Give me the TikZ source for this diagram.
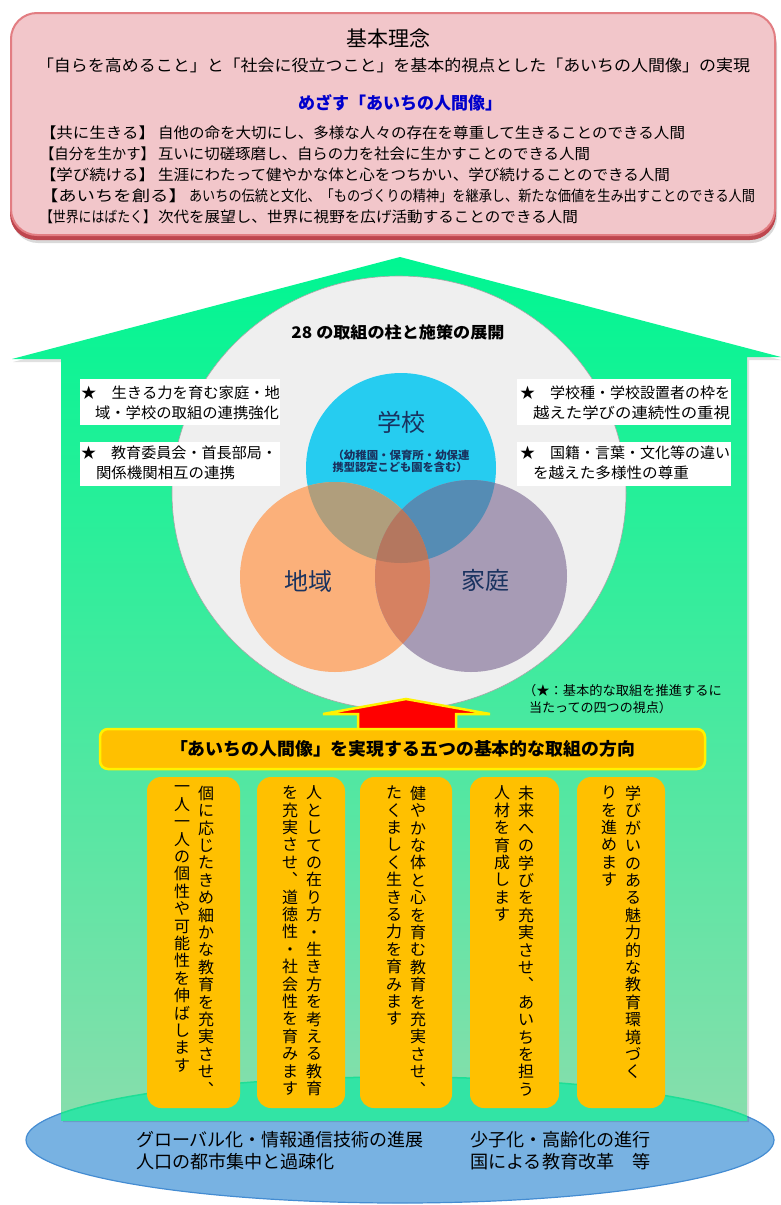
\documentclass[tikz,border=0pt]{standalone}
\usepackage{fontspec}
\setmainfont{Noto Sans CJK JP}
\usepackage{graphicx}
\usetikzlibrary{shapes.geometric}
\definecolor{pinkfill}{RGB}{242,198,202}
\definecolor{pinkborder}{RGB}{226,125,130}
\definecolor{shadowred}{RGB}{190,70,78}
\definecolor{blueT}{RGB}{0,0,204}
\definecolor{gA}{RGB}{0,246,146}
\definecolor{gB}{RGB}{30,236,155}
\definecolor{gC}{RGB}{135,222,172}
\definecolor{egggray}{RGB}{239,239,239}
\definecolor{barorange}{RGB}{255,192,0}
\definecolor{ellblue}{RGB}{120,178,226}
\definecolor{ellborder}{RGB}{68,140,210}
\definecolor{ovgreen}{RGB}{50,228,165}
\definecolor{edgegreen}{RGB}{30,222,150}
\definecolor{navyT}{RGB}{25,50,95}
\definecolor{cBlue}{RGB}{38,204,240}
\definecolor{cOrange}{RGB}{251,176,122}
\definecolor{cPurple}{RGB}{167,155,181}
\definecolor{cBO}{RGB}{176,158,124}
\definecolor{cBP}{RGB}{85,140,180}
\definecolor{cOP}{RGB}{214,129,97}
\definecolor{cTri}{RGB}{180,119,95}
\newcommand\fsz[1]{\fontsize{#1}{#1}\selectfont}
\newcommand\fitw[2]{\resizebox{#1}{\height}{#2}}
\makeatletter
\newcommand\vcol[1]{\vbox{\baselineskip=17.4pt\lineskiplimit=-20pt\lineskip=0pt\@tfor\vc@t:=#1\do{\hbox to 1em{\hss\vc@t\hss}}}}
\makeatother
\tikzset{
  every node/.style={inner sep=0pt, outer sep=0pt},
  linetext/.style={anchor=west, font=\fsz{15}},
  boxtext/.style={anchor=west, font=\fsz{15}},
  whitebox/.style={fill=white, anchor=north west},
  pillar/.style={fill=barorange, rounded corners=14pt, anchor=north west, minimum height=331pt},
  coltext/.style={anchor=north, font=\fsz{16}},
  venntext/.style={font=\fsz{24}, text=navyT},
  bottomtext/.style={anchor=west, font=\fsz{18}}
}
\begin{document}
\begin{tikzpicture}[x=1pt,y=-1pt]
\useasboundingbox (0,0) rectangle (781,1205);

% ---------- top box ----------
\fill[black, opacity=.15, rounded corners=26pt] (12,20) rectangle (777,243);
\fill[shadowred, rounded corners=26pt] (10,16) rectangle (776,240);
\node[draw=pinkborder, line width=2pt, fill=pinkfill, rounded corners=26pt,
      minimum width=764pt, minimum height=222pt, anchor=north west] (topbox) at (11,13) {};
\node[font=\fsz{21}] (kihon) at (388,39) {基本理念};
\node[font=\fsz{16}] (sub) at (393.5,65) {\fitw{713pt}{「自らを高めること」と「社会に役立つこと」を基本的視点とした「あいちの人間像」の実現}};
\node[font=\bfseries\fsz{17}, text=blueT] (mezasu) at (400,103) {めざす「あいちの人間像」};
\node[linetext] (l1a) at (40,133) {\fitw{115pt}{【共に生きる】}};
\node[linetext] (l1b) at (158,133) {\fitw{527pt}{自他の命を大切にし、多様な人々の存在を尊重して生きることのできる人間}};
\node[linetext] (l2a) at (40,154) {\fitw{115pt}{【自分を生かす】}};
\node[linetext] (l2b) at (158,154) {\fitw{432pt}{互いに切磋琢磨し、自らの力を社会に生かすことのできる人間}};
\node[linetext] (l3a) at (40,175) {\fitw{115pt}{【学び続ける】}};
\node[linetext] (l3b) at (158,175) {\fitw{512pt}{生涯にわたって健やかな体と心をつちかい、学び続けることのできる人間}};
\node[linetext] (l4a) at (40,196) {\fitw{147pt}{【あいちを創る】}};
\node[linetext] (l4b) at (189,196) {\fitw{566pt}{あいちの伝統と文化、「ものづくりの精神」を継承し、新たな価値を生み出すことのできる人間}};
\node[linetext] (l5a) at (40,217) {\fitw{116pt}{【世界にはばたく】}};
\node[linetext] (l5b) at (158,217) {\fitw{420pt}{次代を展望し、世界に視野を広げ活動することのできる人間}};

% ---------- bottom ellipse ----------
\draw[fill=ellblue, draw=ellborder, line width=1.2pt] (400,1140) ellipse [x radius=374, y radius=63];

% ---------- house ----------
\fill[black, opacity=.12] (13,362) -- (400,260) -- (781,360) -- (749,360) -- (749,1122) -- (63,1122) -- (63,362) -- cycle;
\shade[top color=gA, middle color=gB, bottom color=gC]
  (12,359) -- (400,257) -- (781,357) -- (747,357) -- (747,1120) -- (61,1120) -- (61,359) -- cycle;
\begin{scope}
  \clip (61,1000) rectangle (747,1120);
  \fill[ovgreen] (400,1140) ellipse [x radius=374, y radius=63];
  \draw[edgegreen, line width=1.5pt] (400,1140) ellipse [x radius=374, y radius=63];
\end{scope}

% ---------- gray egg ----------
\draw[fill=egggray, draw=black!35, line width=.6pt] (399,493) ellipse [x radius=227, y radius=217];
\node[font=\bfseries\fsz{16}] (title28) at (398,332) {\fitw{213pt}{28 の取組の柱と施策の展開}};

% ---------- white boxes ----------
\node[whitebox, minimum width=200pt, minimum height=46pt] (wb1) at (80,379) {};
\node[whitebox, minimum width=200pt, minimum height=44pt] (wb2) at (80,442) {};
\node[whitebox, minimum width=214pt, minimum height=46pt] (wb3) at (517,379) {};
\node[whitebox, minimum width=214pt, minimum height=44pt] (wb4) at (517,442) {};
\node[boxtext] (t1a) at (81,393) {\fitw{199pt}{★　生きる力を育む家庭・地}};
\node[boxtext] (t1b) at (95,413) {\fitw{184pt}{域・学校の取組の連携強化}};
\node[boxtext] (t2a) at (81,453) {\fitw{196pt}{★　教育委員会・首長部局・}};
\node[boxtext] (t2b) at (96,473) {\fitw{139pt}{関係機関相互の連携}};
\node[boxtext] (t3a) at (520,393) {\fitw{210pt}{★　学校種・学校設置者の枠を}};
\node[boxtext] (t3b) at (533,413) {\fitw{197pt}{越えた学びの連続性の重視}};
\node[boxtext] (t4a) at (520,453) {\fitw{210pt}{★　国籍・言葉・文化等の違い}};
\node[boxtext] (t4b) at (533,473) {\fitw{156pt}{を越えた多様性の尊重}};

% ---------- Venn ----------
\fill[cBlue] (401,468) circle (95);
\fill[cOrange] (335,577) circle (95);
\fill[cPurple] (471,576) circle (96);
\begin{scope}
  \clip (401,468) circle (95);
  \fill[cBO] (335,577) circle (95);
  \fill[cBP] (471,576) circle (96);
\end{scope}
\begin{scope}
  \clip (335,577) circle (95);
  \fill[cOP] (471,576) circle (96);
\end{scope}
\begin{scope}
  \clip (401,468) circle (95);
  \clip (335,577) circle (95);
  \fill[cTri] (471,576) circle (96);
\end{scope}
\node[venntext] (gakko) at (401,422) {学校};
\node[font=\bfseries\fsz{11}, text=navyT] (gakkoA) at (401,455) {\fitw{137pt}{（幼稚園・保育所・幼保連}};
\node[font=\bfseries\fsz{11}, text=navyT] (gakkoB) at (400,467) {\fitw{135pt}{携型認定こども園を含む）}};
\node[venntext] (chiiki) at (308,581) {地域};
\node[venntext] (katei) at (485,580) {家庭};

% ---------- note ----------
\node[anchor=west, font=\fsz{13}] (noteA) at (523,691) {\fitw{199pt}{（★：基本的な取組を推進するに}};
\node[anchor=west, font=\fsz{13}] (noteB) at (529,708) {\fitw{143pt}{当たっての四つの視点）}};

% ---------- arrow ----------
\draw[fill=red, draw=yellow, line width=2.5pt, line join=miter]
  (358,730) -- (358,714) -- (323,714) -- (406,699) -- (490,714) -- (456,714) -- (456,730);

% ---------- bar ----------
\node[draw=yellow, line width=2.5pt, fill=barorange, rounded corners=8pt,
      minimum width=605pt, minimum height=40pt, font=\bfseries\fsz{17.5}] (bar) at (402.5,749)
  {\fitw{465pt}{「あいちの人間像」を実現する五つの基本的な取組の方向}};

% ---------- pillars ----------
\node[pillar, minimum width=93pt] (p1) at (147,777) {};
\node[pillar, minimum width=88pt] (p2) at (257,777) {};
\node[pillar, minimum width=92pt] (p3) at (360,777) {};
\node[pillar, minimum width=89pt] (p4) at (470,777) {};
\node[pillar, minimum width=88pt] (p5) at (577,777) {};
\node[coltext] (p1r) at (206,786) {\vcol{個に応じたきめ細かな教育を充実させ︑}};
\node[coltext] (p1l) at (182,786) {\vcol{一人一人の個性や可能性を伸ばします}};
\node[coltext] (p2r) at (314,786) {\vcol{人としての在り方・生き方を考える教育}};
\node[coltext] (p2l) at (290,786) {\vcol{を充実させ︑道徳性・社会性を育みます}};
\node[coltext] (p3r) at (418,786) {\vcol{健やかな体と心を育む教育を充実させ︑}};
\node[coltext] (p3l) at (394,786) {\vcol{たくましく生きる力を育みます}};
\node[coltext] (p4r) at (526,786) {\vcol{未来への学びを充実させ︑あいちを担う}};
\node[coltext] (p4l) at (502,786) {\vcol{人材を育成します}};
\node[coltext] (p5r) at (633,786) {\vcol{学びがいのある魅力的な教育環境づく}};
\node[coltext] (p5l) at (609,786) {\vcol{りを進めます}};

% ---------- bottom texts ----------
\node[bottomtext] (bt1) at (136,1140) {\fitw{288pt}{グローバル化・情報通信技術の進展}};
\node[bottomtext] (bt2) at (136,1162) {\fitw{199pt}{人口の都市集中と過疎化}};
\node[bottomtext] (bt3) at (470,1140) {\fitw{181pt}{少子化・高齢化の進行}};
\node[bottomtext] (bt4) at (470,1162) {\fitw{181pt}{国による教育改革　等}};
\end{tikzpicture}
\end{document}
